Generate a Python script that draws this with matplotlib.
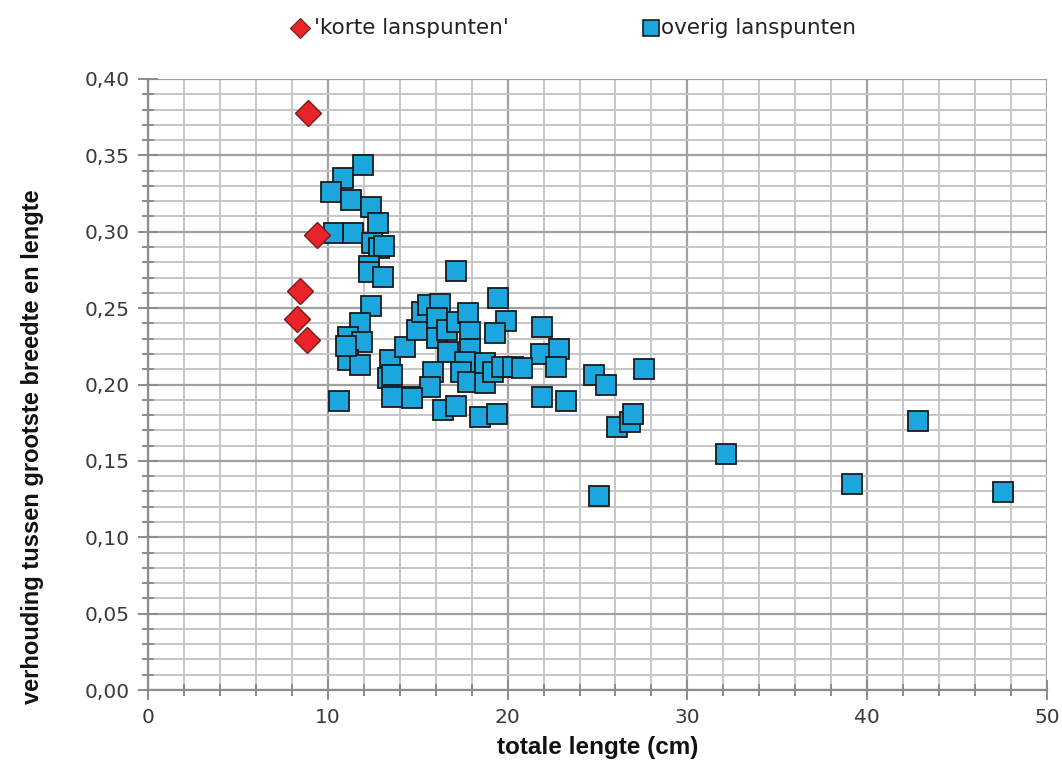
import matplotlib
matplotlib.use("Agg")
import matplotlib.pyplot as plt
from matplotlib.ticker import MultipleLocator, FuncFormatter
from matplotlib.lines import Line2D

# 'korte lanspunten' (short spear points)
korte_lengte = [8.9, 9.4, 8.45, 8.3, 8.85]
korte_verhouding = [0.378, 0.298, 0.261, 0.243, 0.229]

# overige lanspunten (other spear points)
overig_lengte = [
    11.97, 10.83, 10.18, 11.27, 12.42, 12.78, 10.36, 11.42, 12.44, 12.86,
    13.13, 12.31, 12.31, 13.05, 12.42, 11.79, 11.14, 11.89, 11.14, 11.79,
    10.64, 11.0, 13.46, 13.37, 13.55, 13.55, 14.66, 14.29, 14.94, 15.22,
    15.59, 16.24, 16.05, 16.05, 16.61, 17.13, 17.17, 17.82, 17.91, 17.91,
    16.7, 17.63, 17.4, 15.87, 15.68, 17.82, 18.74, 18.74, 19.2, 19.67,
    20.32, 19.45, 19.91, 19.3, 16.42, 17.13, 18.46, 19.39, 14.66, 21.9,
    21.83, 22.86, 22.68, 20.78, 21.9, 23.23, 24.8, 25.45, 27.59, 26.07,
    26.81, 26.96, 25.08, 32.13, 42.84, 39.17, 47.57,
]
overig_verhouding = [
    0.3437, 0.3354, 0.3258, 0.3206, 0.3164, 0.3059, 0.2994, 0.2994, 0.2924, 0.2892,
    0.2909, 0.2776, 0.2739, 0.2702, 0.2514, 0.2400, 0.2313, 0.2280, 0.2160, 0.2128,
    0.1890, 0.2250, 0.2160, 0.2040, 0.2060, 0.1916, 0.1916, 0.2248, 0.2357, 0.2477,
    0.2520, 0.2527, 0.2433, 0.2302, 0.2357, 0.2743, 0.2412, 0.2466, 0.2346, 0.2231,
    0.2216, 0.2150, 0.2084, 0.2084, 0.1986, 0.2019, 0.2139, 0.2012, 0.2084, 0.2113,
    0.2113, 0.2564, 0.2418, 0.2335, 0.1833, 0.1859, 0.1789, 0.1810, 0.1909, 0.2379,
    0.2200, 0.2230, 0.2113, 0.2106, 0.1915, 0.1895, 0.2062, 0.1997, 0.2101, 0.1724,
    0.1757, 0.1807, 0.1272, 0.1545, 0.1763, 0.1347, 0.1294,
]

legend_labels = ["'korte lanspunten'", "overig lanspunten"]

RED = "#E8232A"
BLUE = "#1BA7DD"
W, H = 1062, 773

fig = plt.figure(figsize=(W / 100, H / 100), dpi=100)
ax = fig.add_axes([148 / W, 1 - 690 / H, 899 / W, 611 / H])

ax.set_xlim(0, 50)
ax.set_ylim(0, 0.40)

ax.xaxis.set_major_locator(MultipleLocator(10))
ax.xaxis.set_minor_locator(MultipleLocator(2))
ax.yaxis.set_major_locator(MultipleLocator(0.05))
ax.yaxis.set_minor_locator(MultipleLocator(0.01))
ax.yaxis.set_major_formatter(FuncFormatter(lambda v, p: f"{v:.2f}".replace(".", ",")))

ax.grid(which="minor", color="#c6c6c6", lw=1.4, zorder=0)
ax.grid(which="major", color="#a0a0a0", lw=1.6, zorder=0)
ax.set_axisbelow(True)

for side in ("top", "right"):
    ax.spines[side].set_visible(False)
for side in ("left", "bottom"):
    ax.spines[side].set_color("#8c8c8c")
    ax.spines[side].set_linewidth(1.6)

tick_font = "DejaVu Sans"
ax.tick_params(which="major", direction="inout", length=14, width=1.4,
               color="#8c8c8c", labelsize=14.5, labelcolor="#3a3a3a", pad=6)
ax.tick_params(which="minor", direction="inout", length=9, width=1.4, color="#8c8c8c")
for lab in ax.get_xticklabels() + ax.get_yticklabels():
    lab.set_fontfamily(tick_font)

ax.plot(overig_lengte, overig_verhouding, linestyle="none", marker="s",
        markersize=13.8, markerfacecolor=BLUE, markeredgecolor="#1a1a1a",
        markeredgewidth=1.3, zorder=3)
ax.plot(korte_lengte, korte_verhouding, linestyle="none", marker="D",
        markersize=13.0, markerfacecolor=RED, markeredgecolor="#7a1a1a",
        markeredgewidth=1.0, zorder=4)

label_font = dict(family="Liberation Sans", weight="bold", color="#111111")
ax.set_xlabel("totale lengte (cm)", size=17.5, **label_font)
ax.set_ylabel("verhouding tussen grootste breedte en lengte", size=17, **label_font)
ax.xaxis.set_label_coords(0.5, (690 - 736) / 611)
ax.yaxis.set_label_coords((44 - 148) / 899, (690 - 447) / 611)

# legend row above the plot
legend_y = 1 - 28 / H
fig.add_artist(Line2D([300 / W], [legend_y], transform=fig.transFigure,
                      linestyle="none", marker="D", markersize=10,
                      markerfacecolor=RED, markeredgecolor="#7a1a1a",
                      markeredgewidth=0.8))
fig.text(314 / W, legend_y, legend_labels[0], ha="left", va="center",
         family=tick_font, size=15.5, color="#222222")
fig.add_artist(Line2D([651 / W], [legend_y], transform=fig.transFigure,
                      linestyle="none", marker="s", markersize=11,
                      markerfacecolor=BLUE, markeredgecolor="#1a1a1a",
                      markeredgewidth=1.2))
fig.text(661 / W, legend_y, legend_labels[1], ha="left", va="center",
         family=tick_font, size=15.5, color="#222222")

fig.savefig("out.png", dpi=100)
